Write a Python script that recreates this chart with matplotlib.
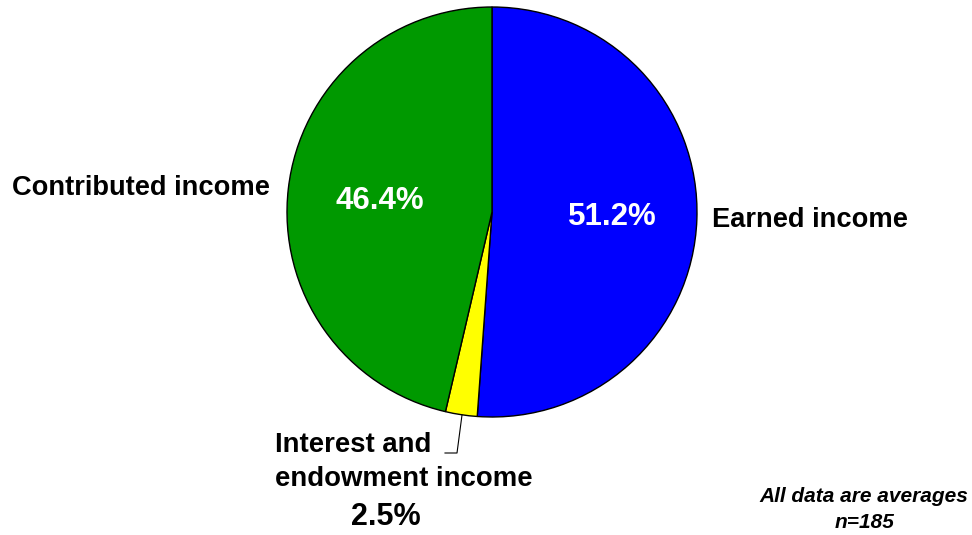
import matplotlib
matplotlib.use("Agg")
import matplotlib.pyplot as plt

# Income sources (share of total income, %)
categories = ["Earned income", "Interest and\nendowment income", "Contributed income"]
shares = [51.2, 2.5, 46.4]
colors = ["#0000FF", "#FFFF00", "#009900"]
pct_labels = ["51.2%", "2.5%", "46.4%"]

W, H = 972, 535
fig = plt.figure(figsize=(W / 100, H / 100), dpi=100)
ax = fig.add_axes([0, 0, 1, 1])
ax.set_xlim(0, W)
ax.set_ylim(0, H)
ax.axis("off")

cx, cy, r = 492, H - 212, 205
wedges, _ = ax.pie(shares, colors=colors, startangle=90, counterclock=False,
                   center=(cx, cy), radius=r,
                   wedgeprops=dict(edgecolor="black", linewidth=1.0))
ax.set_xlim(0, W)
ax.set_ylim(0, H)
ax.set_aspect("equal")

font = "Liberation Sans"

# Percentages inside the two large slices
ax.text(612, H - 217, pct_labels[0], color="white", fontsize=22.5, fontweight="bold",
        family=font, ha="center", va="center")
ax.text(380, H - 201, pct_labels[2], color="white", fontsize=22.5, fontweight="bold",
        family=font, ha="center", va="center")

# Category labels outside the pie
ax.text(712, H - 220, categories[0], fontsize=19.6, fontweight="bold",
        family=font, ha="left", va="center")
ax.text(12, H - 188, categories[2], fontsize=19.6, fontweight="bold",
        family=font, ha="left", va="center")
ax.text(275, H - 462, categories[1], fontsize=19.8, fontweight="bold",
        family=font, ha="left", va="center", linespacing=1.42)
ax.text(386, H - 517, pct_labels[1], fontsize=22, fontweight="bold",
        family=font, ha="center", va="center")

# Leader line from the small slice to its label
ax.plot([462, 457, 445], [H - 415, H - 453, H - 453], color="black", linewidth=0.8)

# Footnote
ax.text(968, H - 497, "All data are averages", fontsize=15, fontweight="bold",
        style="italic", family=font, ha="right", va="center")
ax.text(865, H - 522, "n=185", fontsize=15, fontweight="bold",
        style="italic", family=font, ha="center", va="center")

fig.savefig("out.png", dpi=100, facecolor="white")
